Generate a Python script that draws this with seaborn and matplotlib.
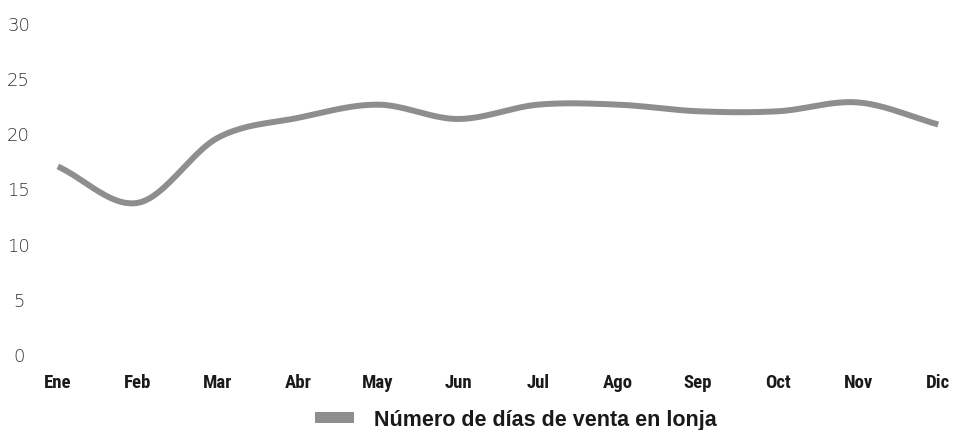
import numpy as np
import pandas as pd
import matplotlib
matplotlib.use("Agg")
import matplotlib.pyplot as plt
import seaborn as sns
from matplotlib.patches import Patch
from matplotlib import font_manager as fm

months = ["Ene", "Feb", "Mar", "Abr", "May", "Jun", "Jul", "Ago", "Sep", "Oct", "Nov", "Dic"]
dias_venta = [17.0, 13.7, 19.6, 21.4, 22.6, 21.3, 22.6, 22.6, 22.0, 22.0, 22.8, 20.8]
y_ticks = [0, 5, 10, 15, 20, 25, 30]
series_name = "Número de días de venta en lonja"

sns.set_theme(style="white")
plt.rcParams["font.family"] = ["DejaVu Sans"]

names = {f.name for f in fm.fontManager.ttflist}
cond = [n for n in ["Liberation Sans Narrow", "DejaVu Sans Condensed", "Roboto Condensed"] if n in names]
month_family = (cond[:1] or ["DejaVu Sans"]) + ["DejaVu Sans"]

# Smooth rendering (Catmull-Rom through the data points)
x = np.arange(len(months), dtype=float)
y = np.array(dias_venta, dtype=float)
xs, ys = [], []
P = np.concatenate([[2 * y[0] - y[1]], y, [2 * y[-1] - y[-2]]])
for i in range(len(y) - 1):
    p0, p1, p2, p3 = P[i], P[i + 1], P[i + 2], P[i + 3]
    t = np.linspace(0, 1, 25, endpoint=(i == len(y) - 2))
    yy = 0.5 * ((2 * p1) + (-p0 + p2) * t + (2 * p0 - 5 * p1 + 4 * p2 - p3) * t ** 2
                + (-p0 + 3 * p1 - 3 * p2 + p3) * t ** 3)
    xs.extend(x[i] + t)
    ys.extend(yy)
df = pd.DataFrame({"mes": xs, "dias": ys})

fig = plt.figure(figsize=(9.55, 4.31), dpi=100)
ax = fig.add_axes([45 / 955, 1 - 355 / 431, 910 / 955, (355 - 24) / 431])

sns.lineplot(data=df, x="mes", y="dias", ax=ax, color="#8e8e8e", linewidth=4.3,
             solid_capstyle="butt", legend=False)

ax.set_xlim(-0.16, 11.21)
ax.set_ylim(0, 30)
ax.set_xticks(x)
ax.set_xticklabels(months, fontsize=13.5, fontweight="bold", color="#1a1a1a",
                   family=month_family)
ax.set_yticks(y_ticks)
ax.set_yticklabels([str(v) for v in y_ticks], fontsize=13, color="#333333",
                   family=["DejaVu Sans"], fontweight="light")
for lab in ax.get_yticklabels():
    lab.set_horizontalalignment("center")
ax.tick_params(axis="y", length=0, pad=19)
ax.tick_params(axis="x", length=0, pad=14)
ax.set_xlabel("")
ax.set_ylabel("")
for s in ax.spines.values():
    s.set_visible(False)
ax.grid(False)

handle = Patch(facecolor="#8e8e8e", edgecolor="none")
leg = fig.legend([handle], [series_name], loc="center", bbox_to_anchor=(516 / 955, 1 - 421 / 431),
                 frameon=False, handlelength=1.8, handleheight=0.4, handletextpad=0.95,
                 prop={"size": 15.5, "weight": "bold", "family": ["Liberation Sans", "DejaVu Sans"]})
for t in leg.get_texts():
    t.set_color("#1a1a1a")

fig.savefig("out.png", dpi=100)
